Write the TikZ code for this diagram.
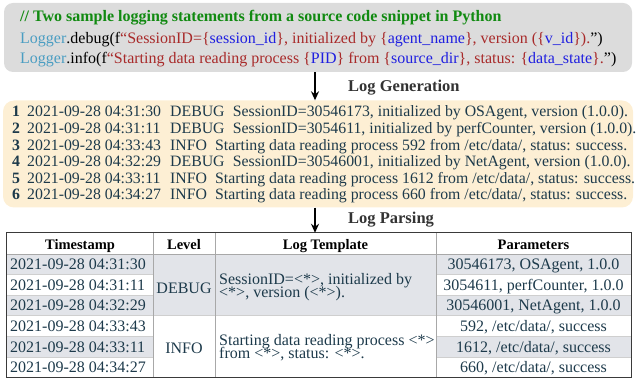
\documentclass[tikz,border=0pt]{standalone}
\usepackage{fontspec}
\setmainfont{Liberation Serif}
\usetikzlibrary{arrows.meta}

\definecolor{codegray}{HTML}{DCDCDC}
\definecolor{logyellow}{HTML}{FDEFD4}
\definecolor{cellgray}{HTML}{E2E4E9}
\definecolor{slate}{HTML}{1D3A4B}
\definecolor{cgreen}{HTML}{118A11}
\definecolor{cteal}{HTML}{4A9DC2}
\definecolor{cred}{HTML}{A82A2A}
\definecolor{cblue}{HTML}{1F1FE0}
\definecolor{sepgray}{HTML}{A8A8A8}
\definecolor{rowgray}{HTML}{CFCFCF}
\definecolor{bordergray}{HTML}{3A3A3A}
\definecolor{labelgray}{HTML}{333333}

\tikzset{
  codeline/.style={anchor=base west, inner sep=0pt, font=\fontsize{16}{19}\selectfont},
  logtxt/.style={anchor=base west, inner sep=0pt, text=slate, font=\fontsize{15.8}{17}\selectfont},
  lognum/.style={anchor=base west, inner sep=0pt, text=slate, font=\fontsize{15.8}{17}\selectfont\bfseries},
  stagelabel/.style={anchor=base west, inner sep=0pt, text=labelgray, font=\fontsize{16.5}{19}\selectfont\bfseries},
  hdr/.style={anchor=base, inner sep=0pt, font=\fontsize{14.5}{17}\selectfont\bfseries},
  celltxt/.style={inner sep=0pt, text=slate, font=\fontsize{16}{19}\selectfont},
  flow/.style={-{Stealth[length=9pt,width=8pt]}, line width=1.6pt},
  cellfill/.style={fill=cellgray, draw=none},
  rowsep/.style={draw=rowgray, line width=0.8pt},
  colsep/.style={draw=sepgray, line width=0.8pt},
}

\newcommand\logrow[6]{%
  \node[lognum] (n#1) at (12,#2) {#1};
  \node[logtxt] (t#1) at (27,#2) {#3};
  \node[logtxt] (l#1) at (170,#2) {#4};
  \node[logtxt] (m#1) at (#5,#2) {#6};
}

\newcommand\tabrow[3]{%
  \node[celltxt, anchor=base west] (ts#1) at (10,{254+20.6*(#1-0.5)+5.4}) {#2};
  \node[celltxt, anchor=base] (pa#1) at (533.5,{254+20.6*(#1-0.5)+5.4}) {#3};
}

\begin{document}
\begin{tikzpicture}[x=1pt,y=-1pt]
\useasboundingbox (0,0) rectangle (636,379);

% ---- code box
\node[fill=codegray, rounded corners=9pt, minimum width=628pt, minimum height=69pt, inner sep=0pt] (code) at (318,37.5) {};
\node[codeline, text=cgreen, font=\fontsize{16}{19}\selectfont\bfseries] (c1) at (20,22) {// Two sample logging statements from a source code snippet in Python};
\node[codeline] (c2) at (20,43.5) {\textcolor{cteal}{Logger}.debug(f\textcolor{cred}{“SessionID=\{}\textcolor{cblue}{session\_id}\textcolor{cred}{\}, initialized by \{}\textcolor{cblue}{agent\_name}\textcolor{cred}{\}, version (\{}\textcolor{cblue}{v\_id}\textcolor{cred}{\}).}”)};
\node[codeline] (c3) at (20,64) {\textcolor{cteal}{Logger}.info(f\textcolor{cred}{“Starting data reading process \{}\textcolor{cblue}{PID}\textcolor{cred}{\} from \{}\textcolor{cblue}{source\_dir}\textcolor{cred}{\}, status: \{}\textcolor{cblue}{data\_state}\textcolor{cred}{\}.}”)};

% ---- log box
\node[fill=logyellow, rounded corners=11pt, minimum width=630pt, minimum height=107pt, inner sep=0pt] (log) at (318,154) {};
\logrow{1}{117}{2021-09-28 04:31:30}{DEBUG}{232.7}{SessionID=30546173, initialized by OSAgent, version (1.0.0).}
\logrow{2}{133.5}{2021-09-28 04:31:11}{DEBUG}{232.7}{SessionID=3054611, initialized by perfCounter, version (1.0.0).}
\logrow{3}{150.1}{2021-09-28 04:33:43}{INFO}{215}{Starting data reading process 592 from /etc/data/, status: success.}
\logrow{4}{166.6}{2021-09-28 04:32:29}{DEBUG}{232.7}{SessionID=30546001, initialized by NetAgent, version (1.0.0).}
\logrow{5}{183.2}{2021-09-28 04:33:11}{INFO}{215}{Starting data reading process 1612 from /etc/data/, status: success.}
\logrow{6}{199.7}{2021-09-28 04:34:27}{INFO}{215}{Starting data reading process 660 from /etc/data/, status: success.}

% ---- table
\node[draw=none, minimum width=624pt, minimum height=144.6pt, inner sep=0pt] (tbl) at (319,305.3) {};
% fills
\foreach \k in {1,3,5} {
  \fill[cellfill] (7,{254+20.6*(\k-1)}) rectangle (153,{254+20.6*\k});
  \fill[cellfill] (436,{254+20.6*(\k-1)}) rectangle (631,{254+20.6*\k});
}
\fill[cellfill] (153,254) rectangle (436,315.8);
% row separators
\foreach \k in {1,...,5} {
  \draw[rowsep] (7,{254+20.6*\k}) -- (153,{254+20.6*\k});
  \draw[rowsep] (436,{254+20.6*\k}) -- (631,{254+20.6*\k});
}
\draw[rowsep] (153,315.8) -- (436,315.8);
% header line and column separators
\draw[colsep] (7,254) -- (631,254);
\draw[colsep] (153,233) -- (153,377.6);
\draw[colsep] (215,233) -- (215,377.6);
\draw[colsep] (436,233) -- (436,377.6);
% border
\draw[draw=bordergray, line width=1.2pt] (tbl.north west) rectangle (tbl.south east);

% headers
\node[hdr] (h1) at (80,249) {Timestamp};
\node[hdr] (h2) at (184,249) {Level};
\node[hdr] (h3) at (325.5,249) {Log Template};
\node[hdr] (h4) at (533.5,249) {Parameters};

\tabrow{1}{2021-09-28 04:31:30}{30546173, OSAgent, 1.0.0}
\tabrow{2}{2021-09-28 04:31:11}{3054611, perfCounter, 1.0.0}
\tabrow{3}{2021-09-28 04:32:29}{30546001, NetAgent, 1.0.0}
\tabrow{4}{2021-09-28 04:33:43}{592, /etc/data/, success}
\tabrow{5}{2021-09-28 04:33:11}{1612, /etc/data/, success}
\tabrow{6}{2021-09-28 04:34:27}{660, /etc/data/, success}

\node[celltxt, anchor=base] (lvd) at (184,293) {DEBUG};
\node[celltxt, anchor=base] (lvi) at (184,353) {INFO};
\node[celltxt, anchor=base west] (tpd1) at (219,284) {SessionID=<*>, initialized by};
\node[celltxt, anchor=base west] (tpd2) at (219,297) {<*>, version (<*>).};
\node[celltxt, anchor=base west] (tpi1) at (219,345) {Starting data reading process <*>};
\node[celltxt, anchor=base west] (tpi2) at (219,358) {from <*>, status: <*>.};

% ---- arrows and stage labels
\coordinate (ax) at (315,0);
\draw[flow] (code.south -| ax) -- (log.north -| ax);
\draw[flow] (log.south -| ax) -- (tbl.north -| ax);
\node[stagelabel] (gen) at (348,91.5) {Log Generation};
\node[stagelabel] (par) at (348,223.5) {Log Parsing};
\end{tikzpicture}
\end{document}
